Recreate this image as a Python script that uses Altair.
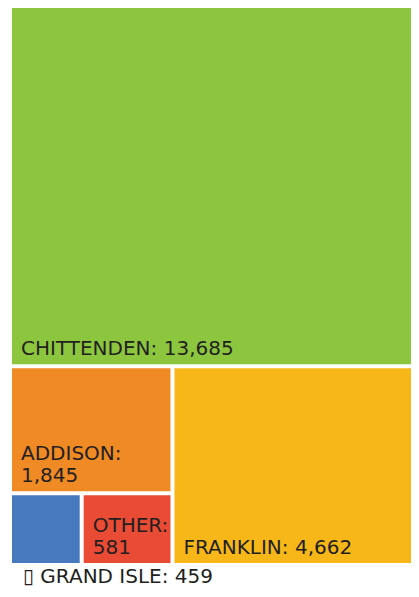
import altair as alt
import pandas as pd

# ---- data (order as laid out in the treemap) ----
names = ["CHITTENDEN", "ADDISON", "GRAND ISLE", "OTHER", "FRANKLIN"]
values = [13685, 1845, 459, 581, 4662]
colors = ["#8cc63f", "#f08a24", "#4679bd", "#e94b35", "#f7b718"]

# ---- layout parameters ----
W, H = 421, 555      # treemap layout box (extends past the visible right edge)
VIS_W = 399          # visible plot width
PAD = 4              # inner padding between tiles
FONT = 20
LINE_H = 21.5
FONT_FAMILY = "DejaVu Sans"
TEXT_COLOR = "#231f20"


def binary_treemap(vals, x0, y0, x1, y1):
    """Port of d3.treemapBinary."""
    n = len(vals)
    sums = [0]
    for v in vals:
        sums.append(sums[-1] + v)
    out = [None] * n

    def part(i, j, value, x0, y0, x1, y1):
        if i >= j - 1:
            out[i] = (x0, y0, x1, y1)
            return
        off = sums[i]
        target = value / 2 + off
        k, hi = i + 1, j - 1
        while k < hi:
            mid = (k + hi) // 2
            if sums[mid] < target:
                k = mid + 1
            else:
                hi = mid
        if (target - sums[k - 1]) < (sums[k] - target) and i + 1 < k:
            k -= 1
        vl = sums[k] - off
        vr = value - vl
        if (x1 - x0) > (y1 - y0):
            xk = (x0 * vr + x1 * vl) / value if value else x1
            part(i, k, vl, x0, y0, xk, y1)
            part(k, j, vr, xk, y0, x1, y1)
        else:
            yk = (y0 * vr + y1 * vl) / value if value else y1
            part(i, k, vl, x0, y0, x1, yk)
            part(k, j, vr, x0, yk, x1, y1)

    part(0, n, sums[-1], x0, y0, x1, y1)
    return out


# approximate glyph widths (em) for label fitting
CW = {":": 0.337, ",": 0.318, " ": 0.318, "I": 0.295}


def text_w(s):
    tot = 0.0
    for ch in s:
        if ch in CW:
            tot += CW[ch]
        elif ch.isdigit():
            tot += 0.636
        else:
            tot += 0.68
    return tot * FONT


h = PAD / 2
tiles = binary_treemap(values, -h, -h, W + h, H + h)

rows = []
for name, val, (x0, y0, x1, y1) in zip(names, values, tiles):
    x0, y0, x1, y1 = x0 + h, y0 + h, x1 - h, y1 - h
    full = f"{name}: {val:,}"
    room = (x1 - x0) - 9
    if text_w(full) <= room:
        label, where, nl = full, "in", 1
    elif text_w(name + ":") <= room:
        label, where, nl = f"{name}:\n{val:,}", "in", 2
    else:
        label, where, nl = "\u25af " + full, "out", 1
    rows.append(dict(name=name, value=val, x0=x0, x1=x1, y0=y0, y1=y1,
                     ly=y1 - (nl - 1) * LINE_H,
                     label=label, where=where))

df = pd.DataFrame(rows)

xs = alt.Scale(domain=[0, VIS_W], nice=False, zero=False)
ys = alt.Scale(domain=[0, H], nice=False, zero=False, reverse=True)

base = alt.Chart(df)

rects = base.mark_rect(clip=True).encode(
    x=alt.X("x0:Q", scale=xs, axis=None),
    x2="x1:Q",
    y=alt.Y("y0:Q", scale=ys, axis=None),
    y2="y1:Q",
    color=alt.Color("name:N", scale=alt.Scale(domain=names, range=colors), legend=None),
)

inside = base.transform_filter(alt.datum.where == "in").mark_text(
    align="left", baseline="alphabetic", dx=9, dy=-9.5, lineBreak="\n",
    lineHeight=LINE_H, font=FONT_FAMILY, fontSize=FONT, color=TEXT_COLOR,
).encode(
    x=alt.X("x0:Q", scale=xs, axis=None),
    y=alt.Y("ly:Q", scale=ys, axis=None),
    text="label:N",
)

outside = base.transform_filter(alt.datum.where == "out").mark_text(
    align="left", baseline="alphabetic", dx=11, dy=20,
    font=FONT_FAMILY, fontSize=FONT, color=TEXT_COLOR,
).encode(
    x=alt.X("x0:Q", scale=xs, axis=None),
    y=alt.Y("y1:Q", scale=ys, axis=None),
    text="label:N",
)

chart = alt.layer(rects, inside, outside).properties(
    width=VIS_W,
    height=H,
    padding={"left": 4, "top": 0, "right": 0, "bottom": 26},
    autosize=alt.AutoSizeParams(type="none"),
    background="white",
).configure_view(stroke=None)

chart.save("out.html", embed_options={"renderer": "svg", "actions": False})
